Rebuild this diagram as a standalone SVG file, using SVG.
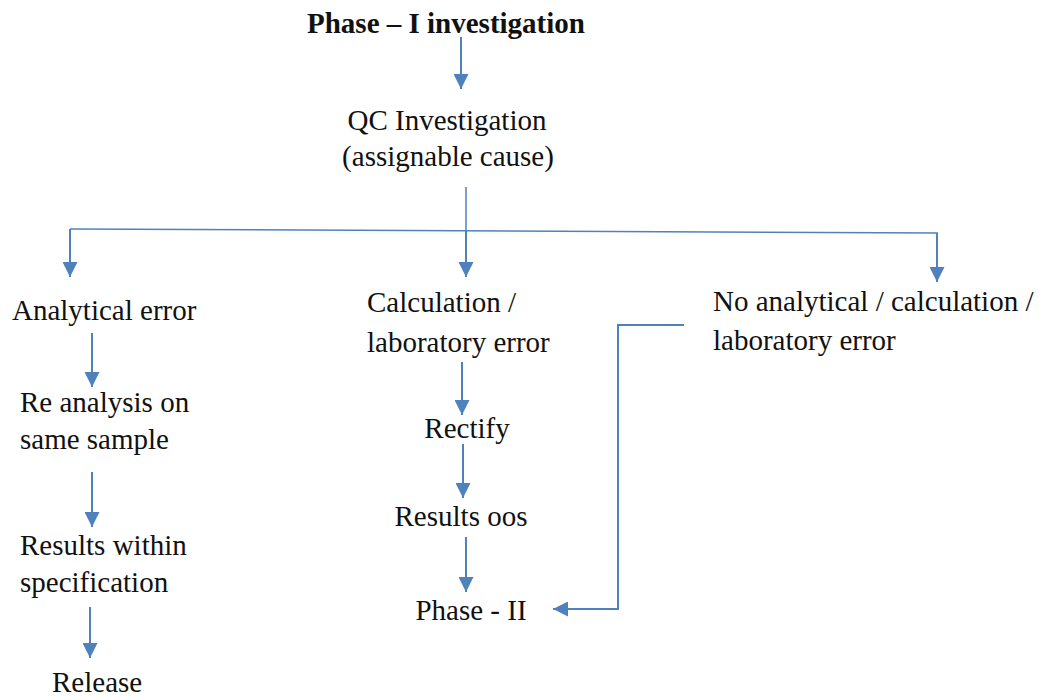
<svg xmlns="http://www.w3.org/2000/svg" width="1046" height="700" viewBox="0 0 1046 700">
<defs>
<style>
text{font-family:"Liberation Serif","Times New Roman",serif;font-size:29px;fill:#111}
.b{font-weight:bold}
.c{text-anchor:middle}
.ln{fill:none;stroke:#4F81BD;stroke-width:2}
.th{stroke-width:1.5}
</style>
<marker id="ah" viewBox="0 0 10 10" refX="10" refY="5" markerWidth="15" markerHeight="15" markerUnits="userSpaceOnUse" orient="auto">
<path d="M0,0 L10,5 L0,10 z" fill="#4F81BD"/>
</marker>
</defs>
<rect width="1046" height="700" fill="#fff"/>
<g id="connectors">
<line class="ln" x1="461" y1="37" x2="461" y2="89" marker-end="url(#ah)"/>
<line class="ln th" x1="466" y1="187" x2="466" y2="231"/>
<line class="ln th" x1="70" y1="229" x2="938" y2="233"/>
<line class="ln" x1="70" y1="229" x2="70" y2="277" marker-end="url(#ah)"/>
<line class="ln" x1="466" y1="231" x2="466" y2="277" marker-end="url(#ah)"/>
<line class="ln" x1="937" y1="233" x2="937" y2="282" marker-end="url(#ah)"/>
<line class="ln" x1="92" y1="333" x2="92" y2="387" marker-end="url(#ah)"/>
<line class="ln" x1="92" y1="472" x2="92" y2="527" marker-end="url(#ah)"/>
<line class="ln" x1="90" y1="607" x2="90" y2="658" marker-end="url(#ah)"/>
<line class="ln" x1="462" y1="362" x2="462" y2="415" marker-end="url(#ah)"/>
<line class="ln" x1="463" y1="444" x2="463" y2="498" marker-end="url(#ah)"/>
<line class="ln" x1="466" y1="537" x2="466" y2="592" marker-end="url(#ah)"/>
<polyline class="ln" points="684,325 618,325 618,609 553,609" marker-end="url(#ah)"/>
</g>
<g id="phase1"><text class="b c" x="446" y="33">Phase – I investigation</text></g>
<g id="qc"><text class="c" x="447" y="130">QC Investigation</text><text class="c" x="448" y="166">(assignable cause)</text></g>
<g id="analytical"><text x="12" y="320">Analytical error</text></g>
<g id="reanalysis"><text x="20" y="412">Re analysis on</text><text x="20" y="449">same sample</text></g>
<g id="within"><text x="20" y="555">Results within</text><text x="20" y="592">specification</text></g>
<g id="release"><text x="52" y="692">Release</text></g>
<g id="calc"><text x="367" y="312">Calculation /</text><text x="367" y="352">laboratory error</text></g>
<g id="rectify"><text class="c" x="467" y="438">Rectify</text></g>
<g id="oos"><text class="c" x="461" y="526">Results oos</text></g>
<g id="phase2"><text class="c" x="471" y="620">Phase - II</text></g>
<g id="noerror"><text x="713" y="311">No analytical / calculation /</text><text x="713" y="350">laboratory error</text></g>
</svg>
